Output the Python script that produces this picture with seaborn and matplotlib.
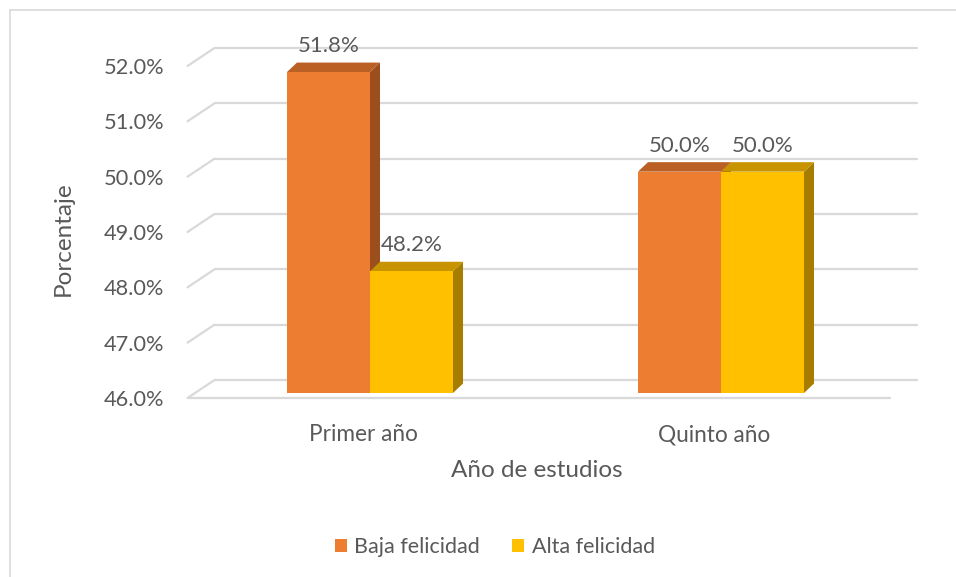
import numpy as np
import pandas as pd
import matplotlib
matplotlib.use("Agg")
import matplotlib.pyplot as plt
import matplotlib.transforms as mtrans
from matplotlib.patches import Polygon, ConnectionPatch, Patch
from matplotlib.lines import Line2D
import seaborn as sns

# datos
categorias = ["Primer año", "Quinto año"]
grupos = ["Baja felicidad", "Alta felicidad"]
baja = [51.8, 50.0]
alta = [48.2, 50.0]
ticks = [46, 47, 48, 49, 50, 51, 52]

df = pd.DataFrame({
    "anio": categorias * 2,
    "grupo": [grupos[0]] * 2 + [grupos[1]] * 2,
    "pct": baja + alta,
})

colores = {"Baja felicidad": "#ED7D31", "Alta felicidad": "#FFC000"}
lados = {"Baja felicidad": "#9C4F1D", "Alta felicidad": "#A67D00"}
techos = {"Baja felicidad": "#BB6024", "Alta felicidad": "#C79400"}
gris = "#595959"
grid_c = "#D9D9D9"

sns.set_style("white")
plt.rcParams["font.family"] = ["Lato", "DejaVu Sans"]

fig = plt.figure(figsize=(9.56, 5.77), dpi=100)
W, H = 956, 577
ax = fig.add_axes([187.5 / W, (H - 398) / H, 702 / W, 332 / H])

sns.barplot(data=df, x="anio", y="pct", hue="grupo", palette=colores,
            width=0.473, ax=ax, legend=False, linewidth=0, saturation=1)
# barras de seaborn: primero todas las de un grupo, luego las del otro
barras = [(p, grupos[i // len(categorias)]) for i, p in enumerate(list(ax.patches))]
barras.sort(key=lambda t: t[0].get_x())

ax.set_xlim(-0.5, 1.5)
ax.set_ylim(46, 52)
for s in ax.spines.values():
    s.set_visible(False)

# planos: fondo y barras desplazados
fondo = ax.transData + mtrans.ScaledTranslation(27 / 100, 18 / 100, fig.dpi_scale_trans)
plano_barras = ax.transData + mtrans.ScaledTranslation(7 / 100, 5 / 100, fig.dpi_scale_trans)

for v in ticks:
    ax.plot([-0.5, 1.5], [v, v], transform=fondo, color=grid_c, lw=1.6, clip_on=False, zorder=0)
    con = ConnectionPatch(xyA=(-0.5, v), coordsA=ax.transData, xyB=(-0.5, v), coordsB=fondo,
                          color=grid_c, lw=1.6, zorder=0)
    ax.add_artist(con)
ax.plot([-0.5, 1.5], [46, 46], color=grid_c, lw=1.6, clip_on=False, zorder=0)

# barras 3D (cara lateral y superior)
profundidad = np.array([10, 9.5])
inv = plano_barras.inverted()

for orden, (p, g) in enumerate(barras):
    h = p.get_height()
    p.set_y(46)
    p.set_height(h - 46)
    p.set_transform(plano_barras)
    p.set_clip_on(False)
    p.set_zorder(3 + orden * 3 + 2)
    x0, x1 = p.get_x(), p.get_x() + p.get_width()
    bl, br, tr, tl = plano_barras.transform([(x0, 46), (x1, 46), (x1, h), (x0, h)])
    lado = inv.transform([br, br + profundidad, tr + profundidad, tr])
    techo = inv.transform([tl, tl + profundidad, tr + profundidad, tr])
    ax.add_patch(Polygon(lado, closed=True, transform=plano_barras, facecolor=lados[g],
                         lw=0, clip_on=False, zorder=3 + orden * 3))
    ax.add_patch(Polygon(techo, closed=True, transform=plano_barras, facecolor=techos[g],
                         lw=0, clip_on=False, zorder=3 + orden * 3 + 1))
    ax.annotate(f"{h:.1f}%", xy=((x0 + x1) / 2, h), xycoords=plano_barras,
                xytext=(0, 26), textcoords="offset pixels", ha="center", va="center",
                fontsize=16, color=gris, zorder=30)

ax.set_xlim(-0.5, 1.5)
ax.set_ylim(46, 52)
ax.set_yticks(ticks)
ax.set_yticklabels([f"{v:.1f}%" for v in ticks])
ax.tick_params(axis="y", length=0, pad=17, labelsize=15.7, labelcolor=gris)
ax.tick_params(axis="x", length=0, pad=19, labelsize=16.3, labelcolor=gris)

ax.set_xlabel("Año de estudios", fontsize=17.5, color=gris)
ax.set_ylabel("Porcentaje", fontsize=17.5, color=gris)
ax.xaxis.set_label_coords(0.498, -0.217)
ax.yaxis.set_label_coords(-0.177, 0.479)
ax.xaxis.label.set_va("center")
ax.yaxis.label.set_va("center")

handles = [Patch(facecolor=colores[g], lw=0) for g in grupos]
fig.legend(handles, grupos, loc="center", bbox_to_anchor=(495 / W, 1 - 547 / H), ncol=2,
           frameon=False, fontsize=15.5, handlelength=0.55, handleheight=0.55,
           handletextpad=0.35, columnspacing=1.5, labelcolor=gris)

# borde del área del gráfico
fig.add_artist(Line2D([10 / W, 1], [1 - 10 / H, 1 - 10 / H], color=grid_c, lw=1.2))
fig.add_artist(Line2D([10 / W, 10 / W], [0, 1 - 10 / H], color=grid_c, lw=1.2))

fig.savefig("out.png", dpi=100)
